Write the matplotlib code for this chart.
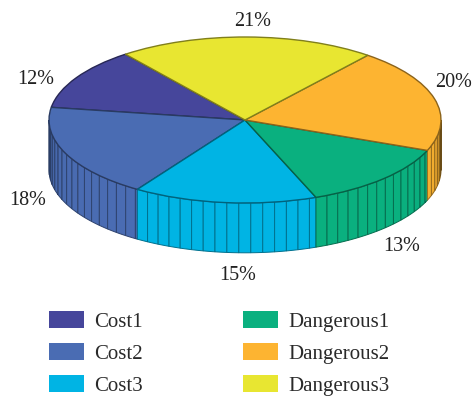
import numpy as np
import matplotlib
matplotlib.use("Agg")
import matplotlib.pyplot as plt
from matplotlib.colors import to_rgb
from matplotlib.patches import Patch

plt.rcParams['font.family'] = ['Liberation Serif', 'DejaVu Serif']

names = ['Cost1', 'Cost2', 'Cost3', 'Dangerous1', 'Dangerous2', 'Dangerous3']
shares = [12, 18, 15, 13, 20, 21]
colors = ['#46469b', '#4a6cb3', '#00b4e4', '#0ab07f', '#fdb431', '#e8e631']

# where the percentages go, in units of the pie radius
label_x = [-1.07, -1.11, -0.04, 0.80, 1.066, 0.04]
label_y = [0.49, -0.97, -1.875, -1.53, 0.45, 1.19]

depth = 0.6     # height of the drum
rib_step = 3.5  # degrees between the facets on the side


def darker(color, k):
    return tuple(c * k for c in to_rgb(color))


def side_shade(angle):
    # the side falls off towards both ends of the visible half
    return 1 - 0.2 * np.exp(-(angle - 180) / 10) - 0.35 * np.exp(-(360 - angle) / 8)


fig = plt.figure(figsize=(4.74, 3.96), dpi=100)
ax = fig.add_axes([0, 0, 1, 1])

wedges, _ = ax.pie(shares, colors=colors, startangle=127.6, radius=1,
                   wedgeprops={'linewidth': 1.0, 'zorder': 5})
for w, c in zip(wedges, colors):
    w.set_edgecolor(darker(c, 0.55))

# side wall, only the front half of the circle shows
for w, c in zip(wedges, colors):
    t1, t2 = w.theta1 % 360, w.theta2 % 360
    if t2 < t1:
        t2 += 360
    a = max(t1, 180)
    b = min(t2, 360)
    if b <= a:
        continue
    steps = np.arange(a, b, rib_step)
    steps = np.append(steps, b)
    for s, e in zip(steps[:-1], steps[1:]):
        th = np.radians(np.linspace(s, e, 6))
        xs = np.r_[np.cos(th), np.cos(th[::-1])]
        ys = np.r_[np.sin(th), np.sin(th[::-1]) - depth]
        shade = side_shade((s + e) / 2)
        ax.fill(xs, ys, facecolor=darker(c, shade), edgecolor=darker(c, 0.62 * shade),
                linewidth=0.7, zorder=2)

for x, y, s in zip(label_x, label_y, shares):
    ax.text(x, y, '%d%%' % s, fontsize=14.5, color='#222222', ha='center', va='center')

ax.set_aspect('auto')
ax.set_xlim(-245 / 196, 229 / 196)
ax.set_ylim((120 - 396) / 83, 120 / 83)
ax.axis('off')

handles = [Patch(facecolor=c, edgecolor='none') for c in colors]
fig.legend(handles, names, ncol=2, frameon=False, fontsize=15, labelcolor='#2a2a2a',
           loc='upper left', bbox_to_anchor=(0.103, 0.215), borderaxespad=0, borderpad=0,
           handlelength=1.68, handleheight=0.87, handletextpad=0.48,
           columnspacing=4.83, labelspacing=0.55)

fig.savefig('out.png', dpi=100)
